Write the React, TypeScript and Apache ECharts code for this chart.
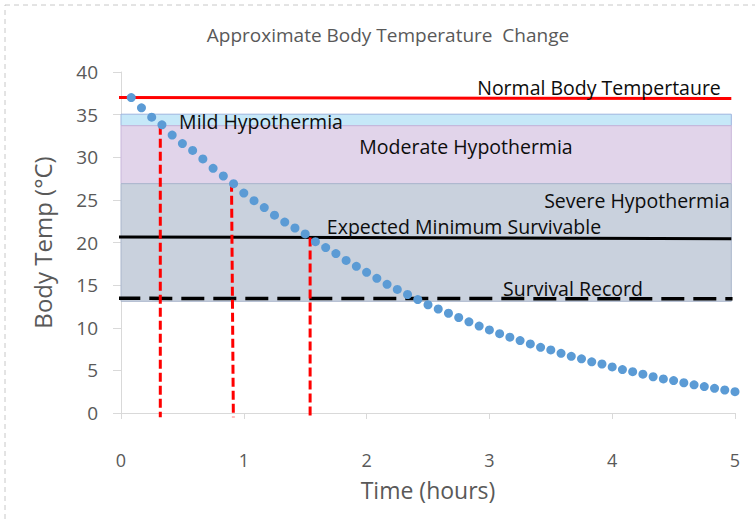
import React, { useEffect, useRef } from "react";
import * as echarts from "echarts";

const minutes = [
  5, 10, 15, 20, 25, 30, 35, 40, 45, 50, 55, 60,
  65, 70, 75, 80, 85, 90, 95, 100, 105, 110, 115, 120,
  125, 130, 135, 140, 145, 150, 155, 160, 165, 170, 175, 180,
  185, 190, 195, 200, 205, 210, 215, 220, 225, 230, 235, 240,
  245, 250, 255, 260, 265, 270, 275, 280, 285, 290, 295, 300,
];
const bodyTemps = [
  37.0, 35.8, 34.7, 33.8, 32.6, 31.6, 30.8, 29.8, 28.7, 27.8, 26.9, 25.8,
  24.9, 24.1, 23.2, 22.4, 21.7, 21.0, 20.1, 19.4, 18.7, 17.9, 17.2, 16.5,
  15.8, 15.1, 14.5, 13.9, 13.3, 12.7, 12.2, 11.7, 11.2, 10.7, 10.2, 9.75,
  9.3, 8.9, 8.5, 8.1, 7.7, 7.4, 7.0, 6.65, 6.35, 6.0, 5.75, 5.4,
  5.1, 4.85, 4.55, 4.25, 4.0, 3.8, 3.55, 3.3, 3.1, 2.9, 2.7, 2.5,
];

// reference lines [time, temp]
const normalLine = [[-0.03, 37.0], [4.97, 36.88]];
const minSurvivableLine = [[-0.03, 20.65], [4.97, 20.45]];
const survivalRecordLine = [[-0.03, 13.45], [4.98, 13.4]];

// vertical markers [time, topTemp]
const markerTimes = [0.32, 0.9, 1.54];
const markerTops = [33.7, 27.0, 20.6];

// bands [fromTemp, toTemp]
const bandNames = ["Mild", "Moderate", "Severe"];
const bandTop = [35.05, 33.7, 26.9];
const bandBottom = [33.7, 26.9, 13.1];
const bandEnd = 4.97;

const yTicks = [0, 5, 10, 15, 20, 25, 30, 35, 40];
const xTicks = [0, 1, 2, 3, 4, 5];

const FONT = "'Open Sans', sans-serif";

export default function App() {
  const ref = useRef<HTMLDivElement>(null);
  useEffect(() => {
    if (!ref.current) return;
    const chart = echarts.init(ref.current, undefined, { renderer: "svg" });
    const bandColors = [
      { fill: "#C6E8F8", border: "#9DB4DE" },
      { fill: "#E1D4EA", border: "#C8B6DA" },
      { fill: "#C9D1DD", border: "#AAB6CC" },
    ];
    const series: any[] = [
      {
        type: "line",
        name: "bands",
        data: [],
        silent: true,
        markArea: {
          silent: true,
          label: { show: false },
          data: bandNames.map((n, i) => [
            {
              name: n,
              coord: [0, bandTop[i]],
              itemStyle: {
                color: bandColors[i].fill,
                borderColor: bandColors[i].border,
                borderWidth: 1,
              },
            },
            { coord: [bandEnd, bandBottom[i]] },
          ]),
        },
      },
      {
        type: "line",
        data: normalLine,
        symbol: "none",
        clip: false,
        lineStyle: { color: "#FF0000", width: 3 },
        z: 3,
      },
      {
        type: "line",
        data: minSurvivableLine,
        symbol: "none",
        clip: false,
        lineStyle: { color: "#000000", width: 3 },
        z: 3,
      },
      {
        type: "line",
        data: survivalRecordLine,
        symbol: "none",
        clip: false,
        lineStyle: { color: "#000000", width: 3.5, type: [23, 9] },
        z: 3,
      },
      ...markerTimes.map((t, i) => ({
        type: "line",
        data: [
          [t, markerTops[i]],
          [t + (i === 1 ? 0.015 : 0), -0.5],
        ],
        symbol: "none",
        clip: false,
        lineStyle: { color: "#FF0000", width: 3, type: [9, 4] },
        z: 4,
      })),
      {
        type: "scatter",
        data: minutes.map((m, i) => [m / 60, bodyTemps[i]]),
        symbolSize: 9,
        itemStyle: { color: "#5B9BD5", opacity: 1 },
        z: 5,
      },
    ];
    const txt = (text: string, x: number, y: number, size = 19.5) => ({
      type: "text",
      x,
      y,
      z: 10,
      style: {
        text,
        fill: "#0D0D0D",
        font: `${size}px ${FONT}`,
        textAlign: "center",
        textVerticalAlign: "middle",
      },
    });
    chart.setOption({
      animation: false,
      backgroundColor: "#FFFFFF",
      title: {
        text: "Approximate Body Temperature  Change",
        left: 383,
        textAlign: "center",
        top: 20,
        textStyle: {
          fontFamily: FONT,
          fontSize: 19,
          fontWeight: "normal",
          color: "#595959",
        },
      },
      grid: { left: 121, right: 20, top: 72, bottom: 110 },
      xAxis: {
        type: "value",
        min: xTicks[0],
        max: xTicks[xTicks.length - 1],
        interval: 1,
        name: "Time (hours)",
        nameLocation: "middle",
        nameGap: 65,
        nameTextStyle: { fontFamily: FONT, fontSize: 23, color: "#595959" },
        axisLine: { show: true, lineStyle: { color: "#D9D9D9", width: 1 } },
        axisTick: { show: true, length: 6, lineStyle: { color: "#D9D9D9" } },
        splitLine: { show: false },
        axisLabel: {
          fontFamily: FONT,
          fontSize: 18,
          color: "#595959",
          margin: 38,
        },
      },
      yAxis: {
        type: "value",
        min: yTicks[0],
        max: yTicks[yTicks.length - 1],
        interval: 5,
        name: "Body Temp (°C)",
        nameLocation: "middle",
        nameGap: 67,
        nameTextStyle: { fontFamily: FONT, fontSize: 24, color: "#595959" },
        axisLine: { show: true, lineStyle: { color: "#D9D9D9", width: 1 } },
        axisTick: { show: true, length: 8, lineStyle: { color: "#D9D9D9" } },
        splitLine: { show: false },
        axisLabel: {
          fontFamily: FONT,
          fontSize: 19,
          color: "#595959",
          margin: 23,
        },
      },
      graphic: [
        {
          type: "rect",
          shape: { x: 5, y: 5, width: 800, height: 600 },
          style: { fill: "none", stroke: "#C8C8C8", lineWidth: 1, lineDash: [5, 4] },
          silent: true,
          z: 0,
        },
        txt("Normal Body Tempertaure", 599, 87),
        txt("Mild Hypothermia", 261, 121),
        txt("Moderate Hypothermia", 466, 146),
        txt("Severe Hypothermia", 637, 200),
        txt("Expected Minimum Survivable", 464, 226),
        txt("Survival Record", 573, 288),
      ],
      series,
    });
    return () => chart.dispose();
  }, []);
  return (
    <div
      ref={ref}
      style={{ position: "fixed", left: 0, top: 0, width: 755, height: 523 }}
    />
  );
}
